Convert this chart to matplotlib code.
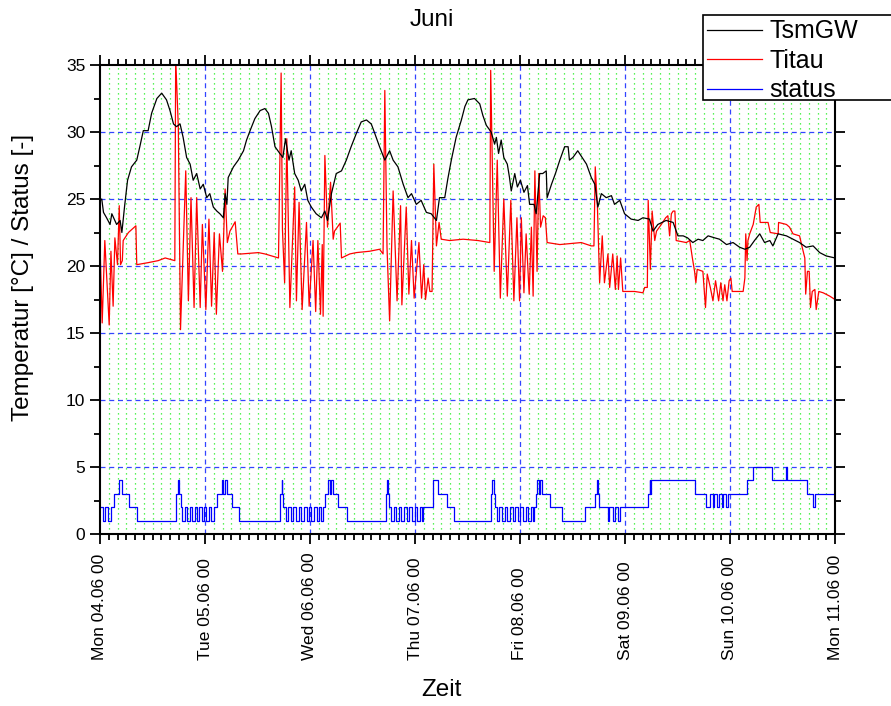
import matplotlib
matplotlib.use("Agg")
import matplotlib.pyplot as plt
from matplotlib.patches import Rectangle
from matplotlib.lines import Line2D
from matplotlib.ticker import MultipleLocator

plt.rcParams["font.family"] = ["Liberation Sans", "DejaVu Sans"]

# hours since Mon 04.06 00:00
DAY_TICKS = [0, 24, 48, 72, 96, 120, 144, 168]
DAY_LABELS = ["Mon 04.06 00", "Tue 05.06 00", "Wed 06.06 00", "Thu 07.06 00",
              "Fri 08.06 00", "Sat 09.06 00", "Sun 10.06 00", "Mon 11.06 00"]

TSM_T = [0.0, 0.4, 0.8, 1.5, 2.3, 2.7, 3.8, 4.6, 5.0, 5.6, 6.3, 7.2, 8.4, 9.1, 9.9,
         11.0, 11.8, 13.0, 14.1, 15.2, 16.0, 16.8, 17.5, 18.3, 19.0, 19.8, 20.6,
         21.3, 22.1, 22.9, 23.6, 24.4, 25.1, 25.9, 26.7, 27.4, 28.2, 28.6, 29.0,
         29.3, 30.5, 31.6, 32.8, 33.5, 34.3, 35.4, 36.6, 37.7, 38.5, 39.2, 40.0,
         41.1, 41.8, 42.4, 43.2, 43.7, 44.5, 45.3, 46.0, 46.8, 47.5, 48.3, 49.4,
         50.6, 51.4, 52.0, 52.9, 54.0, 55.2, 56.3, 57.4, 58.6, 59.7, 60.9, 62.0,
         62.8, 63.9, 65.1, 66.2, 67.0, 68.1, 69.3, 70.4, 71.2, 72.3, 73.4, 74.6,
         75.7, 76.9, 77.6, 78.8, 79.5, 80.3, 81.4, 82.6, 83.4, 84.1, 85.6, 86.8,
         87.5, 88.3, 89.4, 90.2, 90.6, 91.1, 91.7, 92.3, 93.1, 93.6, 94.0, 94.8,
         95.4, 96.1, 96.9, 97.7, 98.2, 99.2, 99.7, 100.5, 101.2, 102.0, 102.2,
         103.2, 104.1, 105.1, 106.2, 107.0, 107.3, 108.1, 109.2, 110.4, 111.2,
         112.3, 113.1, 113.8, 114.6, 115.7, 116.9, 117.6, 118.8, 119.9, 121.4,
         123.0, 124.1, 125.6, 126.4, 127.5, 129.4, 131.0, 132.1, 133.3, 134.3,
         135.5, 136.7, 137.8, 139.0, 140.5, 141.6, 143.2, 144.7, 146.2, 147.4,
         148.5, 149.6, 150.8, 151.9, 153.1, 153.8, 155.0, 156.9, 158.4, 159.9,
         161.4, 163.0, 164.5, 166.0, 168.0]
TSM_V = [24.9, 25.0, 24.0, 23.6, 23.1, 23.9, 23.1, 23.4, 22.5, 24.4, 26.4, 27.4,
         27.9, 28.9, 30.1, 30.1, 31.4, 32.5, 32.9, 32.4, 31.6, 30.6, 30.4, 30.6,
         29.6, 28.1, 27.6, 26.4, 26.9, 25.75, 26.1, 25.1, 25.4, 24.4, 24.1, 23.9,
         23.6, 25.4, 24.6, 26.6, 27.4, 27.9, 28.6, 29.4, 30.1, 31.0, 31.6, 31.75,
         31.4, 30.4, 28.9, 28.4, 28.1, 29.5, 27.9, 28.6, 26.9, 26.4, 25.6, 26.1,
         24.9, 24.4, 23.9, 23.6, 24.1, 23.4, 25.4, 26.9, 27.1, 27.9, 28.9, 29.9,
         30.75, 30.9, 30.6, 29.9, 28.9, 27.9, 28.6, 27.9, 27.4, 26.1, 25.1, 25.4,
         24.6, 24.9, 24.0, 23.9, 23.4, 25.1, 25.1, 26.5, 27.9, 29.6, 30.9, 31.9,
         32.4, 32.5, 32.1, 31.25, 30.5, 30.0, 29.1, 29.6, 28.4, 29.4, 28.1, 27.6,
         26.6, 25.6, 26.9, 25.9, 26.4, 25.5, 26.0, 24.6, 24.6, 23.9, 26.9, 26.9,
         27.1, 25.1, 26.1, 26.9, 27.9, 28.9, 28.9, 27.9, 28.1, 28.6, 28.0, 27.6,
         26.6, 26.1, 24.4, 25.4, 25.1, 25.25, 24.6, 24.9, 23.9, 23.5, 23.4, 23.6,
         23.5, 22.6, 23.1, 23.4, 23.25, 22.25, 22.25, 22.1, 21.75, 22.0, 21.9,
         22.25, 22.1, 22.0, 21.6, 21.75, 21.4, 21.25, 21.4, 21.9, 22.4, 21.75,
         21.9, 21.5, 22.4, 22.25, 22.0, 21.75, 21.4, 21.5, 21.0, 20.75, 20.6]

TITAU_T = [0.0, 0.5, 1.1, 2.1, 2.5, 3.0, 3.4, 4.0, 4.4, 4.7, 5.1, 5.3, 6.5, 8.2,
           8.4, 11.0, 13.3, 14.9, 17.1, 17.3, 17.9, 18.4, 19.6, 20.2, 20.8, 21.5,
           22.1, 22.9, 23.4, 24.2, 24.9, 25.5, 26.1, 26.6, 27.3, 28.0, 28.6, 29.1,
           29.7, 30.9, 31.5, 32.4, 36.2, 37.7, 40.8, 41.4, 41.7, 42.2, 42.7, 43.4,
           44.5, 44.9, 45.5, 46.2, 47.2, 47.8, 48.7, 49.3, 49.8, 50.4, 50.8, 51.0,
           51.4, 52.0, 52.7, 53.3, 53.6, 54.9, 55.2, 57.1, 58.6, 61.6, 63.9, 64.7,
           65.1, 65.6, 66.2, 67.0, 67.9, 68.7, 69.0, 70.0, 70.6, 71.2, 71.8, 72.9,
           73.5, 74.0, 74.4, 75.0, 75.4, 75.9, 76.3, 76.9, 77.5, 78.0, 79.9, 83.0,
           86.4, 89.1, 89.3, 90.1, 90.8, 91.5, 92.3, 93.1, 93.9, 94.6, 95.3, 95.9,
           96.3, 96.9, 97.4, 98.1, 98.6, 99.0, 99.4, 99.9, 100.3, 100.7, 101.3,
           101.8, 102.2, 105.1, 110.0, 112.3, 112.9, 113.2, 113.7, 114.2, 114.8,
           115.3, 116.1, 116.5, 117.2, 117.8, 118.2, 118.5, 119.0, 119.5, 122.2,
           124.1, 124.5, 125.1, 125.3, 125.8, 126.2, 126.8, 127.2, 128.3, 129.3,
           129.8, 130.2, 130.6, 131.0, 131.4, 131.7, 134.0, 134.8, 135.4, 135.9,
           136.2, 136.5, 137.8, 138.4, 138.8, 139.5, 140.1, 140.7, 141.4, 141.9,
           142.4, 142.8, 143.3, 143.8, 144.2, 144.5, 147.0, 147.4, 147.6, 147.9,
           148.1, 148.5, 149.3, 150.0, 150.6, 150.9, 152.7, 153.2, 155.0, 155.1,
           156.9, 157.6, 158.4, 159.9, 160.5, 161.1, 161.3, 161.7, 162.1, 162.4,
           162.8, 163.4, 163.7, 164.3, 165.3, 166.8, 168.0]
TITAU_V = [21.6, 15.75, 21.9, 15.6, 21.1, 17.0, 22.1, 20.1, 24.5, 20.1, 20.4, 21.9,
           22.5, 23.0, 20.1, 20.25, 20.4, 20.6, 20.4, 35.5, 30.4, 15.25, 27.1, 17.4,
           25.1, 16.9, 25.1, 16.9, 23.1, 16.75, 23.5, 17.0, 22.5, 16.4, 22.4, 19.6,
           25.75, 21.75, 22.6, 23.3, 20.9, 20.9, 21.0, 20.9, 20.6, 34.4, 22.75,
           18.75, 29.5, 16.9, 25.9, 17.4, 24.75, 16.75, 23.25, 17.0, 21.9, 16.6,
           21.9, 16.4, 21.6, 16.25, 28.25, 22.9, 26.25, 22.0, 22.6, 23.2, 20.6,
           20.9, 21.0, 21.1, 21.25, 20.9, 33.1, 21.4, 15.9, 25.6, 17.4, 24.5, 17.1,
           24.4, 17.9, 21.9, 17.6, 21.75, 17.6, 20.1, 17.5, 19.1, 18.1, 18.1, 27.6,
           21.5, 23.25, 22.0, 21.9, 22.0, 21.9, 21.75, 34.6, 19.6, 27.9, 17.6, 25.0,
           17.75, 24.9, 17.4, 23.6, 17.4, 23.6, 18.0, 22.4, 17.9, 22.9, 17.75, 27.1,
           19.6, 26.9, 22.9, 23.75, 23.6, 21.75, 21.6, 21.75, 21.5, 21.5, 27.4,
           24.4, 18.75, 22.25, 18.75, 20.9, 18.4, 20.9, 18.25, 20.75, 18.25, 20.6,
           18.1, 18.1, 18.0, 18.4, 18.4, 24.9, 19.75, 24.1, 21.9, 22.6, 23.1, 23.6,
           23.75, 22.25, 23.9, 24.1, 24.1, 21.9, 21.75, 21.9, 20.6, 19.6, 18.75,
           19.75, 19.6, 16.9, 19.4, 18.4, 17.4, 18.9, 17.4, 18.75, 17.4, 18.6, 17.4,
           18.9, 19.1, 18.1, 18.1, 19.1, 22.4, 20.4, 21.9, 22.4, 23.1, 24.4, 24.6,
           23.25, 23.25, 22.5, 22.4, 23.25, 23.1, 22.9, 22.4, 22.25, 21.4, 20.6,
           17.9, 19.6, 19.6, 16.9, 18.1, 18.25, 16.75, 18.1, 18.0, 17.75, 17.5]

STATUS_T = [0.0, 0.6, 1.1, 1.9, 2.4, 3.2, 4.4, 5.1, 6.7, 8.4, 17.4, 17.8, 18.0,
            18.4, 18.8, 19.4, 19.9, 20.5, 21.0, 21.6, 22.1, 22.7, 23.3, 23.8, 24.3,
            24.9, 25.4, 26.0, 26.7, 27.8, 28.2, 28.5, 29.1, 30.1, 31.8, 41.1, 41.5,
            41.7, 41.9, 42.4, 43.0, 43.6, 44.2, 44.8, 45.4, 46.0, 46.6, 47.2, 47.8,
            48.3, 48.9, 49.5, 50.1, 50.6, 51.0, 51.4, 52.0, 52.5, 52.8, 53.3, 54.5,
            56.4, 65.4, 65.7, 65.9, 66.1, 66.5, 67.1, 67.7, 68.3, 68.9, 69.5, 70.1,
            70.7, 71.3, 71.9, 72.5, 73.1, 73.5, 73.9, 76.2, 77.3, 79.2, 80.8, 89.3,
            89.7, 90.0, 90.3, 90.7, 91.3, 91.9, 92.5, 93.1, 93.7, 94.3, 94.9, 95.5,
            96.1, 96.7, 97.3, 97.9, 98.5, 98.9, 99.3, 99.6, 99.9, 100.3, 100.5,
            101.0, 102.9, 105.5, 110.9, 113.1, 113.5, 113.8, 114.1, 116.0, 116.4,
            117.2, 117.6, 118.5, 118.9, 125.3, 125.6, 125.8, 126.0, 136.0, 138.5,
            139.4, 140.0, 140.4, 141.0, 141.4, 142.1, 142.5, 143.0, 143.6, 147.8,
            149.2, 153.7, 156.8, 157.0, 161.5, 162.9, 163.4, 168.0]
STATUS_V = [2, 1, 2, 1, 2, 3, 4, 3, 2, 1, 3, 4, 3, 2, 1, 2, 1, 2, 1, 2, 1, 2, 1, 2,
            1, 2, 1, 2, 3, 4, 3, 4, 3, 2, 1, 3, 4, 3, 2, 1, 2, 1, 2, 1, 2, 1, 2, 1,
            2, 1, 2, 1, 2, 1, 2, 3, 4, 3, 4, 3, 2, 1, 3, 4, 3, 2, 1, 2, 1, 2, 1, 2,
            1, 2, 1, 2, 1, 2, 1, 2, 4, 3, 2, 1, 3, 4, 3, 2, 1, 2, 1, 2, 1, 2, 1, 2,
            1, 2, 1, 2, 1, 2, 1, 2, 3, 4, 3, 4, 3, 2, 1, 2, 3, 4, 3, 2, 1, 2, 1, 2,
            1, 2, 3, 4, 3, 4, 3, 2, 3, 2, 3, 2, 3, 2, 3, 2, 3, 4, 5, 4, 5, 4, 3, 2,
            3, 3]

W, H = 891, 706
fig = plt.figure(figsize=(W / 100, H / 100), dpi=100)
ax = fig.add_axes([100 / W, 1 - 534 / H, 735 / W, 469 / H])

# grid
for x in range(2, 168, 2):
    if x % 24:
        ax.axvline(x, color="#22ee22", lw=0.9, ls=(0, (1, 3)), zorder=0)
for x in DAY_TICKS[1:-1]:
    ax.axvline(x, color="#3344ff", lw=0.9, ls=(0, (4, 3)), zorder=0.5)
for y in range(5, 35, 5):
    ax.axhline(y, color="#3344ff", lw=0.9, ls=(0, (4, 3)), zorder=0.5)

ax.plot(TSM_T, TSM_V, color="black", lw=0.9, zorder=3)
ax.plot(TITAU_T, TITAU_V, color="#ff0000", lw=0.9, zorder=2)
ax.step(STATUS_T, STATUS_V, where="post", color="#0000ff", lw=0.9, zorder=2)

ax.set_xlim(0, 168)
ax.set_ylim(0, 35)
ax.xaxis.set_major_locator(MultipleLocator(24))
ax.xaxis.set_minor_locator(MultipleLocator(2))
ax.yaxis.set_major_locator(MultipleLocator(5))
ax.yaxis.set_minor_locator(MultipleLocator(2.5))
ax.tick_params(which="both", direction="out", top=True, right=True, width=1.3)
ax.tick_params(which="major", length=7, labelsize=12.5)
ax.tick_params(which="minor", length=4)
ax.set_xticklabels([])
for s in ax.spines.values():
    s.set_linewidth(1.5)

for x, lab in zip(DAY_TICKS, DAY_LABELS):
    ax.text(x, -126 / 469, lab, transform=ax.get_xaxis_transform(),
            rotation=90, ha="center", va="bottom", fontsize=12.5)

ax.set_ylabel("Temperatur [°C] / Status [-]", fontsize=17.5)
ax.yaxis.set_label_coords(-66 / 735, (534 - 277) / 469)
fig.text(441 / W, 1 - 690 / H, "Zeit", ha="center", va="center", fontsize=17.5)
fig.text(432 / W, 1 - 20 / H, "Juni", ha="center", va="center", fontsize=17.5)

# legend box sticking out of the figure on the right
box = Rectangle((703 / W, 1 - 100 / H), 300 / W, 85 / H, transform=fig.transFigure,
                facecolor="white", edgecolor="black", lw=1.2, zorder=10)
fig.patches.append(box)
handles = [Line2D([], [], color="black", lw=0.9),
           Line2D([], [], color="#ff0000", lw=0.9),
           Line2D([], [], color="#0000ff", lw=0.9)]
leg = fig.legend(handles, ["TsmGW", "Titau", "status"], loc="upper left",
                 bbox_to_anchor=(706 / W, 1 - 18 / H), frameon=False, fontsize=18,
                 handlelength=2.2, handletextpad=0.3, labelspacing=0.22,
                 borderpad=0.05, borderaxespad=0)
leg.set_zorder(11)

fig.savefig("out.png", dpi=100)
